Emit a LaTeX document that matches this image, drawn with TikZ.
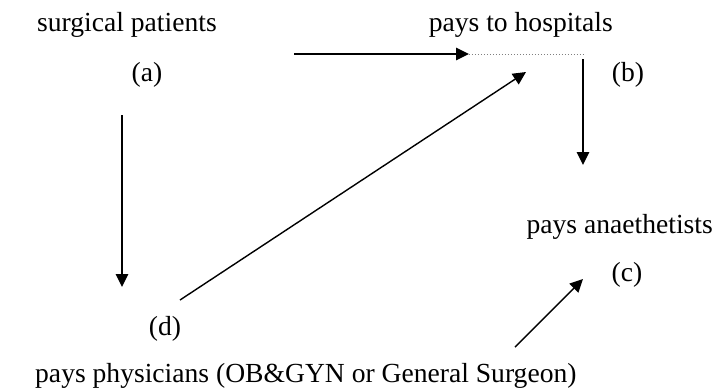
\documentclass[tikz,border=0pt]{standalone}
\usepackage{fontspec}
\setmainfont{Liberation Serif}
\usetikzlibrary{arrows.meta}
\begin{document}
\begin{tikzpicture}[x=1bp,y=-1bp,
  lbl/.style={inner sep=0pt,font=\fontsize{27.7}{30}\selectfont},
  arr/.style={line width=1.4bp,-{Triangle[length=13bp,width=12.5bp]}},
  dots/.style={line width=1bp,dotted,gray}]
\useasboundingbox (0,0) rectangle (715,391);
\node[lbl,anchor=base west] (sp) at (37,31) {surgical patients};
\node[lbl,anchor=base] (a) at (147,81) {(a)};
\node[lbl,anchor=base east] (ph) at (613,31) {pays to hospitals};
\node[lbl,anchor=base] (b) at (628,81) {(b)};
\node[lbl,anchor=base east] (pa) at (713,233) {pays anaethetists};
\node[lbl,anchor=base] (c) at (627,281) {(c)};
\node[lbl,anchor=base] (d) at (165,335) {(d)};
\node[lbl,anchor=base west] (pp) at (35,382) {pays physicians (OB\&GYN or General Surgeon)};
\coordinate (h1) at (294,54);
\coordinate (h2) at (469,54);
\coordinate (h3) at (584,54);
\coordinate (v1) at (583,59);
\coordinate (v2) at (583,165);
\coordinate (l1) at (122,115);
\coordinate (l2) at (122,287);
\coordinate (g1) at (180,300);
\coordinate (g2) at (526,72);
\coordinate (s1) at (515,347);
\coordinate (s2) at (583,279);
\draw[arr] (h1) -- (h2);
\draw[dots] (h2) -- (h3);
\draw[arr] (v1) -- (v2);
\draw[arr] (l1) -- (l2);
\draw[arr] (g1) -- (g2);
\draw[arr] (s1) -- (s2);
\end{tikzpicture}
\end{document}
